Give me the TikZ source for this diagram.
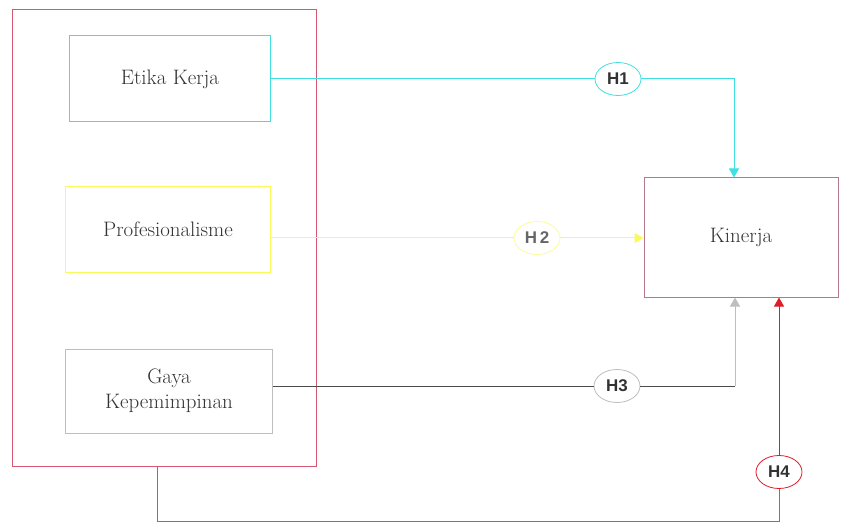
\documentclass[tikz,border=0pt]{standalone}
\usepackage{fontspec}
\newfontfamily\hfont{Liberation Sans}
\usetikzlibrary{arrows.meta,shapes.geometric}
\definecolor{cy}{RGB}{64,224,224}
\definecolor{yl}{RGB}{250,250,90}
\definecolor{gr}{RGB}{190,190,190}
\definecolor{rd}{RGB}{220,30,40}
\definecolor{ob}{RGB}{210,90,110}
\definecolor{kb}{RGB}{180,120,140}
\definecolor{tx}{RGB}{50,50,50}
\begin{document}
\begin{tikzpicture}[x=1bp,y=-1bp,
  box/.style={draw,line width=1bp,inner sep=0pt,font=\fontsize{21}{25}\selectfont,text=tx,align=center},
  hyp/.style={draw,ellipse,line width=0.8bp,minimum width=46bp,minimum height=33bp,inner sep=0pt,fill=white,text=tx,font=\hfont\bfseries\fontsize{17}{19}\selectfont},
  conn/.style={line width=1bp},
  tip/.style={-{Triangle[length=9bp,width=10bp]}}]
\useasboundingbox (0,0) rectangle (845,527);
\node[box,draw=ob,minimum width=303bp,minimum height=456bp] (outer) at (164.5,238) {};
\node[box,draw=cy,minimum width=200bp,minimum height=86bp] (etika) at (170,79) {Etika Kerja};
\node[box,draw=yl,minimum width=204bp,minimum height=85bp] (prof) at (168,229.5) {Profesionalisme};
\node[box,draw=gr,minimum width=206bp,minimum height=84bp] (gaya) at (169,391) {Gaya\\Kepemimpinan};
\node[box,draw=kb,minimum width=194bp,minimum height=119bp] (kin) at (741,237.5) {Kinerja};
\coordinate (c1) at (734,79);
\coordinate (c3) at (735,386);
\coordinate (d4) at (157,521);
\coordinate (e4) at (779,521);
\node[hyp,draw=cy] (h1) at (618,79) {H1};
\node[hyp,draw=yl!60,text=black!60] (h2) at (537,238) {H\,2};
\node[hyp,draw=gr] (h3) at (617,386) {H3};
\node[hyp,draw=rd] (h4) at (779,472) {H4};
\draw[conn,cy] (etika.east) -- (h1.west);
\draw[conn,cy,tip] (h1.east) -- (c1) -- (kin.north -| c1);
\draw[conn,yl] (prof.east |- h2) -- (h2.west);
\draw[conn,yl,tip] (h2.east) -- (kin.west |- h2);
\draw[conn,black!70] (gaya.east |- h3) -- (h3.west);
\draw[conn,black!70] (h3.east) -- (c3);
\draw[conn,gr,tip] (c3) -- (kin.south -| c3);
\draw[conn,rd!80] (outer.south -| d4) -- (d4) -- (e4) -- (h4.south);
\draw[conn,rd,tip] (h4.north) -- (kin.south -| h4);
\end{tikzpicture}
\end{document}
